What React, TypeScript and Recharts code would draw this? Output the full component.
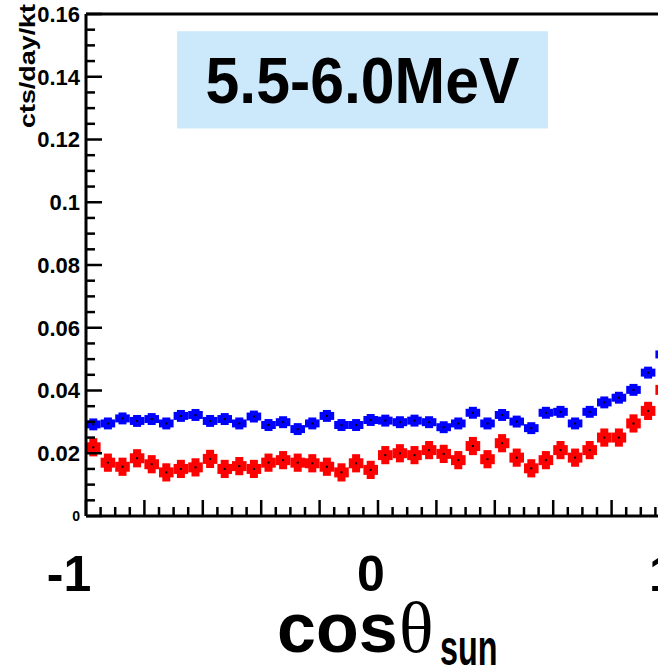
import React from 'react';
import { ComposedChart, Scatter, XAxis, YAxis, ErrorBar, ReferenceLine, ReferenceArea } from 'recharts';

const binCenters = [
  -0.975, -0.925, -0.875, -0.825, -0.775, -0.725, -0.675, -0.625, -0.575, -0.525,
  -0.475, -0.425, -0.375, -0.325, -0.275, -0.225, -0.175, -0.125, -0.075, -0.025,
  0.025, 0.075, 0.125, 0.175, 0.225, 0.275, 0.325, 0.375, 0.425, 0.475,
  0.525, 0.575, 0.625, 0.675, 0.725, 0.775, 0.825, 0.875, 0.925, 0.975,
];

const blueRate = [
  0.0292, 0.0295, 0.0311, 0.0303, 0.0309, 0.0295, 0.0319, 0.0322, 0.0303, 0.0309,
  0.0295, 0.0317, 0.029, 0.0299, 0.0277, 0.0295, 0.0319, 0.029, 0.029, 0.0306,
  0.0304, 0.0299, 0.0304, 0.0299, 0.0283, 0.0295, 0.0329, 0.0295, 0.0322, 0.0301,
  0.028, 0.0329, 0.0332, 0.0295, 0.0332, 0.0362, 0.0377, 0.0402, 0.0457, 0.0515,
];

const redRate = [
  0.0219, 0.017, 0.0157, 0.0184, 0.0165, 0.0139, 0.015, 0.0155, 0.0182, 0.015,
  0.0159, 0.015, 0.017, 0.0178, 0.017, 0.0168, 0.0157, 0.0139, 0.0168, 0.0147,
  0.0194, 0.02, 0.0194, 0.021, 0.0198, 0.0178, 0.0223, 0.0181, 0.0232, 0.0186,
  0.0152, 0.0178, 0.021, 0.0186, 0.021, 0.025, 0.025, 0.0295, 0.0335, 0.0402,
];

const binHalfWidth = 0.025;
const blueErr = 0.0019;
const redErr = 0.0029;

const yMajorLabels = ['0', '0.02', '0.04', '0.06', '0.08', '0.1', '0.12', '0.14', '0.16'];
const xBigLabels: Record<string, string> = { '-1': '-1', '0': '0', '1': '1' };
const titleText = '5.5-6.0MeV';
const yTitle = 'cts/day/kt';
const xTitleMain = 'cos';
const xTitleSymbol = 'θ';
const xTitleSub = 'sun';

const Y_MINOR = 0.005;
const X_MINOR = 0.05;
const yTicks = Array.from({ length: 33 }, (_, i) => +(i * Y_MINOR).toFixed(3));
const xTicks = Array.from({ length: 41 }, (_, i) => +(-1 + i * X_MINOR).toFixed(3));

const blueData = binCenters.map((x, i) => ({ x, y: blueRate[i], ex: binHalfWidth, ey: blueErr }));
const redData = binCenters.map((x, i) => ({ x, y: redRate[i], ex: binHalfWidth, ey: redErr }));

const FONT = '"Liberation Sans", Arial, Helvetica, sans-serif';
const SERIF = '"Liberation Serif", "Times New Roman", serif';

const YTick = (props: any) => {
  const { x, y, payload } = props;
  const idx = Math.round(payload.value / Y_MINOR);
  const major = idx % 4 === 0;
  const len = major ? 16 : 9;
  const label = major ? yMajorLabels[idx / 4] : null;
  const small = label === '0';
  return (
    <g>
      <line x1={x} x2={x + len} y1={y} y2={y} stroke="#000" strokeWidth={2.5} />
      {label && (
        <text x={x - 6} y={y} dy="0.36em" textAnchor="end" fontSize={small ? 14 : 22} fontWeight="bold" fontFamily={FONT} fill="#000">
          {label}
        </text>
      )}
    </g>
  );
};

const XTick = (props: any) => {
  const { x, y, payload } = props;
  const idx = Math.round((payload.value + 1) / X_MINOR);
  const major = idx % 4 === 0;
  const len = major ? 16 : 9;
  const key = String(Math.round(payload.value * 1000) / 1000);
  const label = xBigLabels[key];
  const shift = key === '-1' ? -17 : -7;
  return (
    <g>
      <line x1={x} x2={x} y1={y} y2={y - len} stroke="#000" strokeWidth={2.5} />
      {label && (
        <text x={x + shift} y={y + 75} textAnchor="middle" fontSize={50} fontWeight="bold" fontFamily={FONT} fill="#000">
          {label}
        </text>
      )}
    </g>
  );
};

const XTitle = (props: any) => {
  const vb = props.viewBox || { x: 86, y: 516, width: 584, height: 151 };
  const left = vb.x + vb.width / 2 - 101;
  const base = vb.y + 136;
  return (
    <g>
      <text x={left} y={base} fontWeight="bold" fontFamily={FONT} fill="#000" fontSize={70}>
        {xTitleMain}
      </text>
      <text x={left + 122} y={base} fontFamily={SERIF} fill="#000" fontSize={72}>
        {xTitleSymbol}
      </text>
      <g transform={`translate(${left + 163}, ${base + 13}) scale(0.85, 1.3)`}>
        <text x={0} y={0} fontWeight="bold" fontFamily={FONT} fill="#000" fontSize={38}>
          {xTitleSub}
        </text>
      </g>
    </g>
  );
};

const YTitle = () => (
  <text x={35} y={4} transform="rotate(-90, 35, 4)" textAnchor="end" fontSize={22} fontWeight="bold" fontFamily={FONT} fill="#000" textLength={124} lengthAdjust="spacingAndGlyphs">
    {yTitle}
  </text>
);

const TitleBox = (props: any) => {
  const vb = props.viewBox;
  if (!vb) return null;
  return (
    <text x={vb.x + vb.width / 2} y={vb.y + vb.height / 2} dy="0.36em" textAnchor="middle" fontSize={64} fontWeight="bold" fontFamily={FONT} fill="#000" textLength={314} lengthAdjust="spacingAndGlyphs">
      {titleText}
    </text>
  );
};

const Dot = (props: any) => {
  const { cx, cy } = props;
  return <rect x={cx - 1} y={cy - 1} width={2} height={2} fill="#000" />;
};

export default function App() {
  return (
    <div style={{ position: 'fixed', left: 0, top: 0, width: 658, height: 667, overflow: 'hidden', background: '#fff' }}>
      <ComposedChart width={700} height={667} margin={{ top: 14, right: 30, bottom: 0, left: 0 }}>
        <XAxis
          type="number"
          dataKey="x"
          domain={[-1, 1]}
          ticks={xTicks}
          interval={0}
          allowDataOverflow
          height={151}
          tickSize={0}
          tickMargin={0}
          tickLine={false}
          axisLine={{ stroke: '#000', strokeWidth: 3 }}
          tick={<XTick />}
          label={<XTitle />}
        />
        <YAxis
          type="number"
          dataKey="y"
          domain={[0, 0.16]}
          ticks={yTicks}
          interval={0}
          allowDataOverflow
          width={86}
          tickSize={0}
          tickMargin={0}
          tickLine={false}
          axisLine={{ stroke: '#000', strokeWidth: 3 }}
          tick={<YTick />}
          label={<YTitle />}
        />
        <ReferenceLine y={0.16} stroke="#000" strokeWidth={3} ifOverflow="visible" />
        <ReferenceLine x={1} stroke="#000" strokeWidth={3} ifOverflow="visible" />
        <ReferenceArea x1={-0.688} x2={0.582} y1={0.1235} y2={0.1545} fill="#cce9fc" fillOpacity={1} stroke="none" label={<TitleBox />} ifOverflow="visible" />
        <Scatter data={blueData} dataKey="y" fill="#0000ff" shape={<Dot />} isAnimationActive={false}>
          <ErrorBar dataKey="ex" direction="x" width={0} stroke="#0000ff" strokeWidth={8} />
          <ErrorBar dataKey="ey" direction="y" width={0} stroke="#0000ff" strokeWidth={8} />
        </Scatter>
        <Scatter data={redData} dataKey="y" fill="#ff0000" shape={<Dot />} isAnimationActive={false}>
          <ErrorBar dataKey="ex" direction="x" width={0} stroke="#ff0000" strokeWidth={10} />
          <ErrorBar dataKey="ey" direction="y" width={0} stroke="#ff0000" strokeWidth={8} />
        </Scatter>
      </ComposedChart>
    </div>
  );
}
